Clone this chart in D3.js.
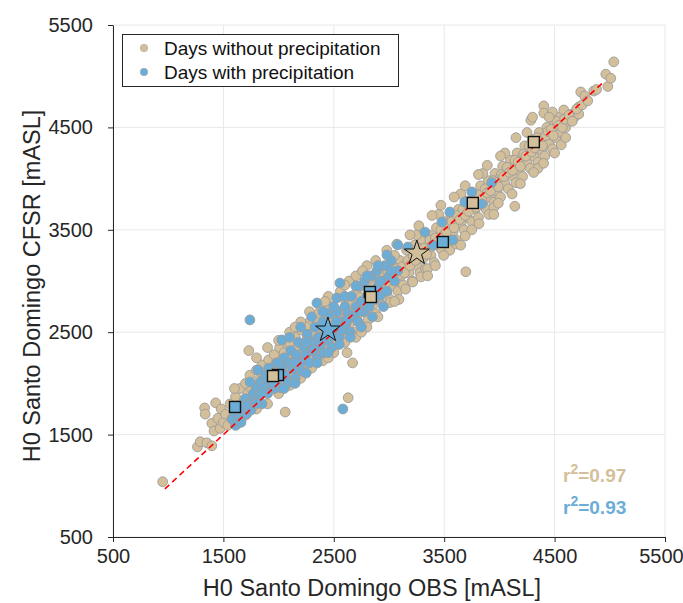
<!DOCTYPE html>
<html>
<head>
<meta charset="utf-8">
<script src="https://cdn.jsdelivr.net/npm/d3@7"></script>
<style>
body{margin:0;background:#fff;}
text{font-family:"Liberation Sans",Arial,Helvetica,sans-serif;}
</style>
</head>
<body>
<svg id="chart" width="683" height="603"></svg>
<script>
// ---------- data ----------
const tickValues = [500,1500,2500,3500,4500,5500];
const seriesNames = ["Days without precipitation","Days with precipitation"];
const r2Labels = ["0.97","0.93"];

// Days without precipitation: [OBS, CFSR]
const dryPoints = [
[950,1040],[1265,1380],[1290,1430],[1350,1420],[1395,1390],[1330,1760],[1335,1700],[1395,1610],[1415,1535],[1430,1810],
[1480,1750],[1450,1660],[1470,1560],[1500,1620],[1520,1700],[1540,1590],[1560,1800],[1580,1660],[1600,1740],[1610,1870],
[1620,1600],[1640,1700],[1650,1950],[1670,1780],[1690,1840],[1700,1690],[1720,1900],[1730,2320],[1740,2080],[1760,1820],
[1780,1960],[1800,2130],[1810,1880],[1830,2040],[1850,2180],[1860,1950],[1880,2100],[1900,2000],[1910,2230],[1930,2120],
[1950,1970],[1960,2280],[1980,2180],[2000,2060],[2010,2350],[2030,2230],[2060,1720],[2050,2120],[2070,2400],[2080,2280],
[2100,2180],[2110,2050],[2130,2330],[2150,2450],[2160,2250],[2180,2130],[2200,2380],[2210,2520],[2230,2280],[2250,2200],
[2260,2440],[2280,2600],[2300,2350],[2310,2250],[2330,2500],[2350,2420],[2360,2680],[2380,2300],[2400,2560],[2410,2460],
[2430,2380],[2450,2640],[2470,2520],[2480,2750],[2500,2450],[2510,2600],[2530,2380],[2550,2700],[2560,2560],[2580,2480],
[2600,2650],[2610,2800],[2620,2300],[2630,1860],[2670,2200],[2640,2580],[2660,2720],[2680,2500],[2700,2880],[2710,2650],
[2730,2780],[2750,2560],[2760,2950],[2780,2700],[2800,2840],[2810,2620],[2830,3000],[2850,2760],[2860,2900],[2880,2680],
[2900,3050],[2910,2820],[2930,2950],[2950,2760],[2960,3120],[2980,2880],[3000,3000],[3010,2820],[3030,3150],[3050,2950],
[3060,3060],[3080,2900],[3100,3200],[3110,3050],[3130,2960],[3150,3150],[3160,3300],[3180,3080],[3200,3200],[3210,3000],
[3230,3350],[3250,3150],[3260,3260],[3280,3080],[3300,3400],[3310,3220],[3330,3120],[3350,3330],[3360,3450],[3380,3250],
[3400,3380],[3410,3180],[3430,3520],[3450,3340],[3460,3440],[3480,3300],[3500,3580],[3510,3420],[3530,3520],[3550,3360],
[3560,3650],[3580,3480],[3600,3580],[3610,3400],[3630,3700],[3650,3560],[3660,3660],[3680,3500],[3700,3780],[3696,3090],
[3710,3620],[3730,3720],[3750,3580],[3760,3860],[3780,3700],[3800,3800],[3810,3620],[3830,3930],[3850,3760],[3860,3860],
[3880,3700],[3900,3980],[3910,3820],[3930,3920],[3950,3770],[3960,4050],[3980,3880],[4000,4000],[4010,3820],[4030,4120],
[4050,3950],[4060,4060],[4080,3900],[4100,4180],[4110,4030],[4130,4120],[4140,3730],[4150,3960],[4160,4250],[4180,4080],
[4200,4200],[4210,4020],[4230,4320],[4250,4150],[4260,4260],[4280,4100],[4285,4570],[4300,4380],[4310,4220],[4330,4320],
[4350,4160],[4360,4450],[4380,4280],[4400,4400],[4402,4710],[4402,4640],[4410,4220],[4430,4500],[4450,4340],[4460,4430],
[4480,4650],[4480,4290],[4500,4550],[4510,4400],[4530,4480],[4538,4455],[4550,4600],[4560,4330],[4583,4670],[4600,4500],
[4620,4560],[4656,4630],[4680,4600],[4719,4700],[4719,4630],[4737,4846],[4773,4807],[4855,4855],[4964,5020],[4982,4900],
[5009,4980],[5036,5140],
[2420,2500],[2440,2560],[2490,2600],[2520,2520],[2540,2640],[2570,2620],[2590,2700],[2620,2660],[2650,2640],[2670,2780],
[2690,2700],[2720,2720],[2740,2840],[2770,2780],[2790,2760],[2820,2880],[2840,2820],[2870,2950],[2890,2880],[2920,2900],
[2940,3060],[2970,2980],[2990,3080],[3020,3050],[3040,3020],[3070,3120],[3090,3060],[3120,3140],[3140,3080],[3170,3200],
[3190,3150],[3220,3240],[3240,3200],[3270,3320],[3290,3280],[3320,3320],[3340,3260],[3370,3400],[3390,3340],[3420,3420],
[3440,3380],[3470,3500],[3490,3440],[3520,3480],[3540,3560],[3570,3580],[3590,3520],[3620,3640],[3640,3600],[3670,3700],
[3690,3640],[3720,3680],[3740,3780],[3770,3760],[3790,3720],[3820,3840],[3840,3800],[3870,3900],[3890,3860],[3920,3880],
[3940,3980],[3970,3960],[3990,3920],[4020,4040],[4040,4020],[4070,4110],[4090,4060],[4120,4080],[4140,4180],[4170,4160],
[4190,4120],[4220,4240],[4240,4220],[4270,4320],[4290,4260],[4320,4300],[4340,4400],[4370,4360],[4390,4320],[4420,4420],
[4440,4460],[4470,4480],[4490,4420],[4520,4560],[4540,4520],[4570,4500],[4590,4580],[4630,4620],[4660,4560],[4700,4680],
[4750,4720],[4800,4760],[4880,4870],
[3050,3250],[3150,2920],[3250,3450],[3350,3120],[3450,3650],[3550,3300],[3650,3850],[3750,3500],[3850,4050],[3950,3720],
[4050,4250],[4250,4450],[4350,4100],[4450,4600],[2300,2500],[2200,2300],[2150,2350],[2100,2400],[2250,2550],[2350,2600],
[2050,2300],[1950,2150],[1850,2100],[1750,1950],
[1900,2350],[2000,2420],[2100,2500],[2200,2600],[2280,2700],[2380,2750],[2450,2850],[2560,2900],[2640,3000],[2700,3050],
[2800,3150],[2880,3200],[2980,3300],[3070,3360],[3190,3450],[3270,3540],[3390,3640],[3470,3740],[3590,3820],[3690,3930],
[3810,4040],[3890,4130],[4010,4220],[4150,4400],[4300,4600],[1800,2250],[1700,2000],[1600,1950],[2150,2550],[2420,2800],
[2600,2960],[2760,3100],
[1800,1750],[1900,1800],[2000,1900],[2100,1980],[2200,2050],[2300,2150],[2400,2220],[2500,2300],[2600,2400],[2700,2450],
[2800,2550],[2900,2650],[3010,2790],[3090,2820],[3215,2990],[3290,3040],[3420,3150],[3495,3250],[3610,3360],[3690,3440],
[3815,3560],[3905,3650],[3990,3760],[4115,3850],[4190,3950],[4310,4060],[4400,4150],[4500,4250],[4600,4400],[2450,2250],
[2750,2500],[3050,2800],[3350,3050],[3650,3350],[3950,3650]
];

// Days with precipitation: [OBS, CFSR]
const wetPoints = [
[1580,1650],[1600,1720],[1610,1590],[1630,1780],[1650,1680],[1660,1620],[1680,1760],[1700,1850],[1710,1700],[1730,1800],
[1740,2620],[1750,1740],[1770,1900],[1790,1820],[1800,1960],[1820,1880],[1840,2020],[1850,1800],[1870,1960],[1880,2080],
[1900,1900],[1910,2150],[1930,2000],[1950,2100],[1960,1950],[1980,2200],[2000,2050],[2010,1960],[2030,2150],[2050,2250],
[2060,2080],[2080,2000],[2100,2200],[2110,2320],[2130,2140],[2150,2050],[2160,2280],[2180,2400],[2200,2200],[2210,2120],
[2230,2350],[2250,2280],[2260,2480],[2280,2200],[2300,2400],[2310,2320],[2330,2550],[2350,2250],[2360,2450],[2380,2380],
[2400,2600],[2410,2300],[2430,2500],[2450,2420],[2460,2680],[2480,2350],[2500,2550],[2510,2480],[2530,2700],[2550,2450],
[2560,2600],[2580,2520],[2582,1750],[2600,2750],[2610,2580],[2630,2680],[2650,2500],[2660,2850],[2680,2650],[2700,2750],
[2720,2600],[2730,2950],[2750,2800],[2770,2700],[2780,3000],[2800,2850],[2820,2750],[2840,3050],[2850,2900],[2870,2820],
[2890,3100],[2900,2950],[2920,2860],[2940,3000],[2960,3150],[2980,2900],[3000,3050],[3020,3200],[3050,3000],[3080,3100],
[3930,3960],[1813,2131],[1740,2013],[2030,2424],[2347,2785],[2555,2980],[2528,2834],[2981,3254],[3080,3352],[3750,3870],
[3840,3752],[3687,3771],[3551,3674],[3479,3576],[3325,3478],[3578,3400],[3397,3351],[3171,3332],
[2100,2450],[2200,2550],[2300,2650],[2400,2700],[2500,2750],[2600,2850],[2700,2950],[2800,3050],[2900,3150],[2150,2000],
[2250,2100],[2350,2200],[2450,2300],[2550,2380],[2650,2450],[2750,2550],[2850,2650],[2950,2750],[1900,2050],[2000,2200],
[1800,1800],[2050,1950],[2320,2330],[2420,2450],[2520,2600],[2620,2620],[2720,2700],[2820,2900],[2920,3000],[3020,3100],
[2250,2400],[2150,2200],[1950,2000],[1850,1900],[1700,1780],[1650,1750]
];

// bin means (squares) and overall means (stars)
const dryBinMeans = [[1949,2072],[2836,2844],[3759,3762],[4312,4357]];
const wetBinMeans = [[1605,1770],[1994,2082],[2827,2893],[3488,3381]];
const dryMean = [3252,3273];
const wetMean = [2447,2521];
const refLine = [[970,970],[4950,4950]];

// ---------- drawing ----------
const colDry = "#d3bf99", colWet = "#6badd6";
const svg = d3.select("#chart");
svg.append("rect").attr("width",683).attr("height",603).attr("fill","#fff");

const x = d3.scaleLinear().domain([500,5500]).range([113,665]);
const y = d3.scaleLinear().domain([500,5500]).range([537,25]);

// grid
const grid = svg.append("g");
grid.selectAll("line.gx").data(tickValues).join("line")
  .attr("x1",d=>x(d)).attr("x2",d=>x(d)).attr("y1",y(500)).attr("y2",y(5500))
  .attr("stroke","#e8e8e8").attr("stroke-width",1);
grid.selectAll("line.gy").data(tickValues).join("line")
  .attr("y1",d=>y(d)).attr("y2",d=>y(d)).attr("x1",x(500)).attr("x2",x(5500))
  .attr("stroke","#e8e8e8").attr("stroke-width",1);

// points
const pts = svg.append("g");
pts.selectAll("circle.dry").data(dryPoints).join("circle")
  .attr("cx",d=>x(d[0])).attr("cy",d=>y(d[1])).attr("r",4.9)
  .attr("fill",colDry).attr("stroke","#9c9c9c").attr("stroke-width",0.9);
pts.selectAll("circle.wet").data(wetPoints).join("circle")
  .attr("cx",d=>x(d[0])).attr("cy",d=>y(d[1])).attr("r",4.9)
  .attr("fill",colWet).attr("stroke","#9c9c9c").attr("stroke-width",0.9);

// reference line
svg.append("path").datum(refLine)
  .attr("d",d3.line().x(d=>x(d[0])).y(d=>y(d[1])))
  .attr("stroke","#ff0000").attr("stroke-width",1.6).attr("stroke-dasharray","6,4").attr("fill","none");

// squares
const sq = 11;
svg.selectAll("rect.wsq").data(wetBinMeans).join("rect")
  .attr("x",d=>x(d[0])-sq/2).attr("y",d=>y(d[1])-sq/2).attr("width",sq).attr("height",sq)
  .attr("fill",colWet).attr("stroke","#111").attr("stroke-width",1.4);
svg.selectAll("rect.dsq").data(dryBinMeans).join("rect")
  .attr("x",d=>x(d[0])-sq/2).attr("y",d=>y(d[1])-sq/2).attr("width",sq).attr("height",sq)
  .attr("fill",colDry).attr("stroke","#111").attr("stroke-width",1.4);

// stars
const star = d3.symbol().type(d3.symbolStar).size(190);
[[dryMean,colDry],[wetMean,colWet]].forEach(([m,c])=>{
  svg.append("path").attr("d",star())
    .attr("transform",`translate(${x(m[0])},${y(m[1])})`)
    .attr("fill",c).attr("stroke","#111").attr("stroke-width",1);
});

// axes
const xAxis = svg.append("g").attr("transform",`translate(0,${y(500)})`)
  .call(d3.axisBottom(x).tickValues(tickValues).tickFormat(d3.format("d")).tickSize(5).tickSizeOuter(0).tickPadding(7));
const yAxis = svg.append("g").attr("transform",`translate(${x(500)},0)`)
  .call(d3.axisLeft(y).tickValues(tickValues).tickFormat(d3.format("d")).tickSize(5).tickSizeOuter(0).tickPadding(15));
[xAxis,yAxis].forEach(g=>{
  g.select(".domain").attr("stroke","#262626");
  g.selectAll(".tick line").attr("stroke","#262626");
  g.selectAll(".tick text").attr("fill","#262626").style("font-size","20px")
   .style("font-family","'Liberation Sans',Arial,sans-serif");
});
xAxis.selectAll(".tick text").filter(d=>d===5500).attr("dx",-4);

// axis titles
svg.append("text").attr("x",372).attr("y",596).attr("text-anchor","middle")
  .attr("fill","#262626").style("font-size","23.5px").text("H0 Santo Domingo OBS [mASL]");
svg.append("text").attr("transform","translate(40,286) rotate(-90)").attr("text-anchor","middle")
  .attr("fill","#262626").style("font-size","23.5px").text("H0 Santo Domingo CFSR [mASL]");

// legend
const lg = svg.append("g");
lg.append("rect").attr("x",122.5).attr("y",34.5).attr("width",276).attr("height",52)
  .attr("fill","#fff").attr("stroke","#262626").attr("stroke-width",1);
[colDry,colWet].forEach((c,i)=>{
  lg.append("circle").attr("cx",144).attr("cy",48+i*24).attr("r",3.8)
    .attr("fill",c).attr("stroke","#aaa").attr("stroke-width",0.6);
  lg.append("text").attr("x",164).attr("y",55+i*24).attr("fill","#111")
    .style("font-size","19px").text(seriesNames[i]);
});

// r2 labels
[[colDry,r2Labels[0],482],[colWet,r2Labels[1],514]].forEach(([c,v,yy])=>{
  const t = svg.append("text").attr("x",563).attr("y",yy).attr("fill",c)
    .style("font-size","19px").style("font-weight","bold");
  t.append("tspan").text("r");
  t.append("tspan").attr("dy",-8).style("font-size","14px").text("2");
  t.append("tspan").attr("dy",8).text("="+v);
});
</script>
</body>
</html>
